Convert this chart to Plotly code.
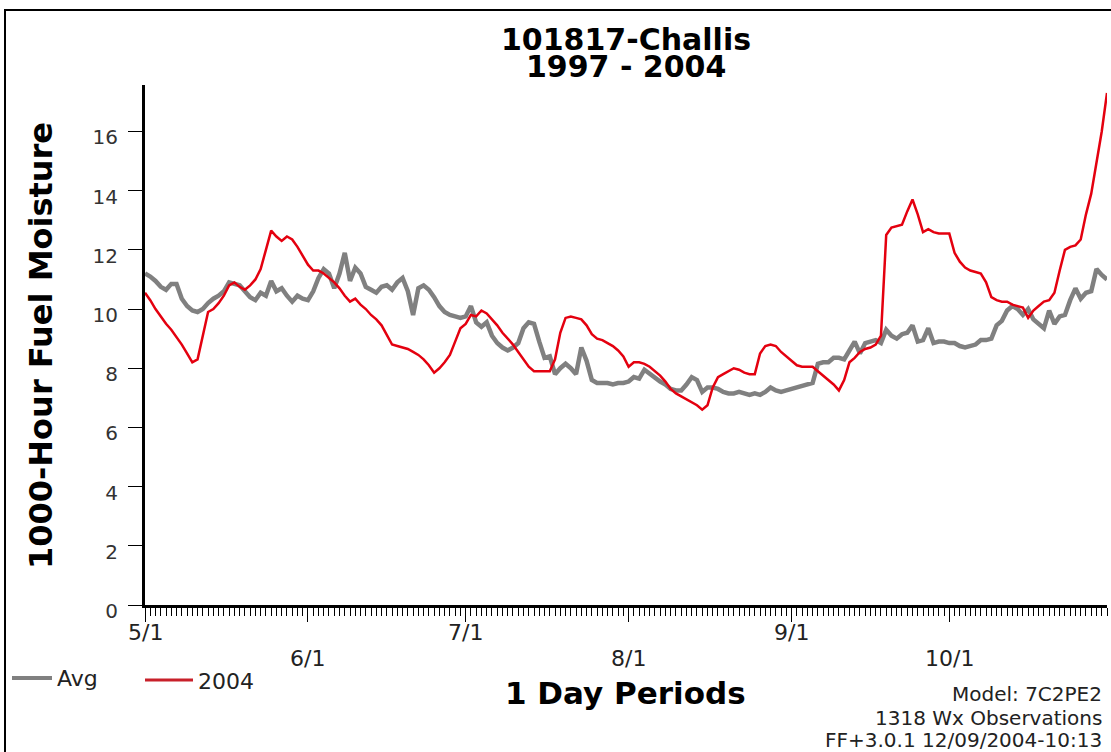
import plotly.graph_objects as go

# Daily index: 0 = May 1 ... 183 = Oct 31
days = list(range(184))

avg_moisture = [
    11.2, 11.1, 10.95, 10.75, 10.65, 10.85, 10.85, 10.35, 10.1, 9.95,
    9.9, 10.0, 10.2, 10.35, 10.45, 10.6, 10.9, 10.85, 10.8, 10.6,
    10.4, 10.3, 10.55, 10.45, 10.95, 10.6, 10.7, 10.45, 10.25, 10.45,
    10.35, 10.3, 10.6, 11.05, 11.35, 11.2, 10.7, 11.2, 11.9, 10.95,
    11.4, 11.2, 10.75, 10.65, 10.55, 10.75, 10.8, 10.65, 10.9, 11.05,
    10.6, 9.8, 10.7, 10.8, 10.65, 10.4, 10.1, 9.9, 9.8, 9.75,
    9.7, 9.75, 10.1, 9.55, 9.4, 9.55, 9.1, 8.85, 8.7, 8.6,
    8.7, 8.85, 9.35, 9.55, 9.5, 8.9, 8.35, 8.4, 7.8, 8.0,
    8.15, 8.0, 7.8, 8.7, 8.25, 7.6, 7.5, 7.5, 7.5, 7.45,
    7.5, 7.5, 7.55, 7.7, 7.65, 7.95, 7.8, 7.7, 7.55, 7.45,
    7.3, 7.25, 7.25, 7.45, 7.7, 7.6, 7.2, 7.35, 7.35, 7.3,
    7.2, 7.15, 7.15, 7.2, 7.15, 7.1, 7.15, 7.1, 7.2, 7.35,
    7.25, 7.2, 7.25, 7.3, 7.35, 7.4, 7.45, 7.5, 8.15, 8.2,
    8.2, 8.35, 8.35, 8.3, 8.6, 8.9, 8.5, 8.85, 8.9, 8.95,
    8.85, 9.3, 9.1, 9.0, 9.15, 9.2, 9.45, 8.9, 8.95, 9.35,
    8.85, 8.9, 8.9, 8.85, 8.85, 8.75, 8.7, 8.75, 8.8, 8.95,
    8.95, 9.0, 9.45, 9.6, 9.95, 10.1, 10.0, 9.8, 10.0, 9.65,
    9.5, 9.35, 9.95, 9.5, 9.75, 9.8, 10.3, 10.7, 10.35, 10.55,
    10.6, 11.35, 11.15, 11.0,
]

moisture_2004 = [
    10.55, 10.3, 10.0, 9.75, 9.5, 9.3, 9.05, 8.8, 8.5, 8.2,
    8.3, 9.1, 9.9, 10.0, 10.2, 10.45, 10.8, 10.9, 10.75, 10.65,
    10.8, 11.0, 11.35, 12.0, 12.65, 12.45, 12.3, 12.45, 12.35, 12.1,
    11.8, 11.5, 11.3, 11.3, 11.2, 11.05, 10.9, 10.7, 10.45, 10.25,
    10.35, 10.15, 10.0, 9.8, 9.65, 9.45, 9.1, 8.8, 8.75, 8.7,
    8.65, 8.55, 8.45, 8.3, 8.1, 7.85, 8.0, 8.2, 8.45, 8.9,
    9.35, 9.5, 9.8, 9.75, 9.95, 9.85, 9.65, 9.45, 9.2, 9.0,
    8.8, 8.55, 8.3, 8.05, 7.9, 7.9, 7.9, 7.9, 8.3, 9.2,
    9.7, 9.75, 9.7, 9.65, 9.45, 9.15, 9.0, 8.95, 8.85, 8.75,
    8.6, 8.4, 8.05, 8.2, 8.2, 8.15, 8.05, 7.9, 7.75, 7.55,
    7.3, 7.15, 7.05, 6.95, 6.85, 6.75, 6.6, 6.75, 7.35, 7.7,
    7.8, 7.9, 8.0, 7.95, 7.85, 7.8, 7.8, 8.5, 8.75, 8.8,
    8.75, 8.55, 8.4, 8.25, 8.1, 8.05, 8.05, 8.05, 7.9, 7.75,
    7.6, 7.45, 7.25, 7.6, 8.2, 8.35, 8.55, 8.65, 8.7, 8.8,
    9.1, 12.5, 12.75, 12.8, 12.85, 13.3, 13.7, 13.2, 12.6, 12.7,
    12.6, 12.55, 12.55, 12.55, 11.9, 11.6, 11.4, 11.3, 11.25, 11.2,
    10.9, 10.4, 10.3, 10.25, 10.25, 10.15, 10.1, 10.05, 9.7, 9.95,
    10.1, 10.25, 10.3, 10.55, 11.3, 12.0, 12.1, 12.15, 12.35, 13.2,
    13.9, 14.9, 16.0, 17.3,
]

month_days = [0, 31, 61, 92, 123, 153]
month_labels = ["5/1", "6/1", "7/1", "8/1", "9/1", "10/1"]
y_ticks = [0, 2, 4, 6, 8, 10, 12, 14, 16]

W, H = 1111, 752
L, R, T, B = 145, 4, 85, 147
PW, PH = W - L - R, H - T - B


def px(x):
    return (x - L) / PW


def py(y):
    return (H - B - y) / PH


TXT = "DejaVu Sans"

fig = go.Figure()
fig.add_trace(go.Scatter(x=days, y=avg_moisture, mode="lines", name="Avg",
                         line=dict(color="#808080", width=4.5)))
fig.add_trace(go.Scatter(x=days, y=moisture_2004, mode="lines", name="2004",
                         line=dict(color="#e4000f", width=2.5)))

fig.update_layout(
    width=W, height=H,
    margin=dict(l=L, r=R, t=T, b=B, pad=0),
    paper_bgcolor="white", plot_bgcolor="white",
    showlegend=False,
    xaxis=dict(
        range=[0, 183], showgrid=False, zeroline=False,
        showline=True, linecolor="black", linewidth=3,
        tickmode="array", tickvals=month_days, showticklabels=False,
        ticks="outside", ticklen=14, tickwidth=1, tickcolor="black",
        minor=dict(ticks="outside", ticklen=8, tickwidth=1, tickcolor="black",
                   tickmode="linear", tick0=0, dtick=1),
    ),
    yaxis=dict(
        range=[0, 17.57], showgrid=False, zeroline=False,
        showline=True, linecolor="black", linewidth=3,
        tickmode="array", tickvals=y_ticks,
        ticks="outside", ticklen=14, tickwidth=1, tickcolor="black",
        tickfont=dict(family=TXT, size=20, color="#333"),
        ticklabelshift=6, ticklabelstandoff=6,
    ),
)

ann = []
# Month labels staggered on two rows below the axis
for i, (d, lab) in enumerate(zip(month_days, month_labels)):
    row_y = 632 if i % 2 == 0 else 658
    ann.append(dict(text=lab, x=d, xref="x", y=py(row_y), yref="paper",
                    xanchor="center", yanchor="middle", showarrow=False,
                    font=dict(family=TXT, size=22, color="#222")))
# Titles
ann.append(dict(text="<b>101817-Challis</b>", x=px(626), y=py(39), xref="paper", yref="paper",
                xanchor="center", yanchor="middle", showarrow=False,
                font=dict(family=TXT, size=30, color="black")))
ann.append(dict(text="<b>1997 - 2004</b>", x=px(626), y=py(67), xref="paper", yref="paper",
                xanchor="center", yanchor="middle", showarrow=False,
                font=dict(family=TXT, size=30, color="black")))
ann.append(dict(text="<b>1 Day Periods</b>", x=px(625), y=py(693), xref="paper", yref="paper",
                xanchor="center", yanchor="middle", showarrow=False,
                font=dict(family=TXT, size=31, color="black")))
ann.append(dict(text="<b>1000-Hour Fuel Moisture</b>", x=px(41), y=py(346), xref="paper", yref="paper",
                xanchor="center", yanchor="middle", showarrow=False, textangle=-90,
                font=dict(family=TXT, size=32, color="black")))
# Footer notes
for txt, yy in [("Model: 7C2PE2", 694), ("1318 Wx Observations", 718),
                ("FF+3.0.1 12/09/2004-10:13", 740)]:
    ann.append(dict(text=txt, x=px(1104), y=py(yy), xref="paper", yref="paper",
                    xanchor="right", yanchor="middle", showarrow=False,
                    font=dict(family=TXT, size=20, color="#222")))
# Legend labels
ann.append(dict(text="Avg", x=px(55), y=py(678), xref="paper", yref="paper",
                xanchor="left", yanchor="middle", showarrow=False,
                font=dict(family=TXT, size=22, color="#222")))
ann.append(dict(text="2004", x=px(196), y=py(681), xref="paper", yref="paper",
                xanchor="left", yanchor="middle", showarrow=False,
                font=dict(family=TXT, size=22, color="#222")))
fig.update_layout(annotations=ann)

shapes = [
    # frame around the whole graphic
    dict(type="rect", xref="paper", yref="paper", x0=px(5), x1=px(1125), y0=py(10), y1=py(770),
         line=dict(color="black", width=2), fillcolor="rgba(0,0,0,0)", layer="below"),
    # legend swatches
    dict(type="line", xref="paper", yref="paper", x0=px(12), x1=px(52), y0=py(678), y1=py(678),
         line=dict(color="#808080", width=4)),
    dict(type="line", xref="paper", yref="paper", x0=px(145), x1=px(193), y0=py(680), y1=py(680),
         line=dict(color="#c8202a", width=3)),
]
fig.update_layout(shapes=shapes)

fig.write_html("out.html")
